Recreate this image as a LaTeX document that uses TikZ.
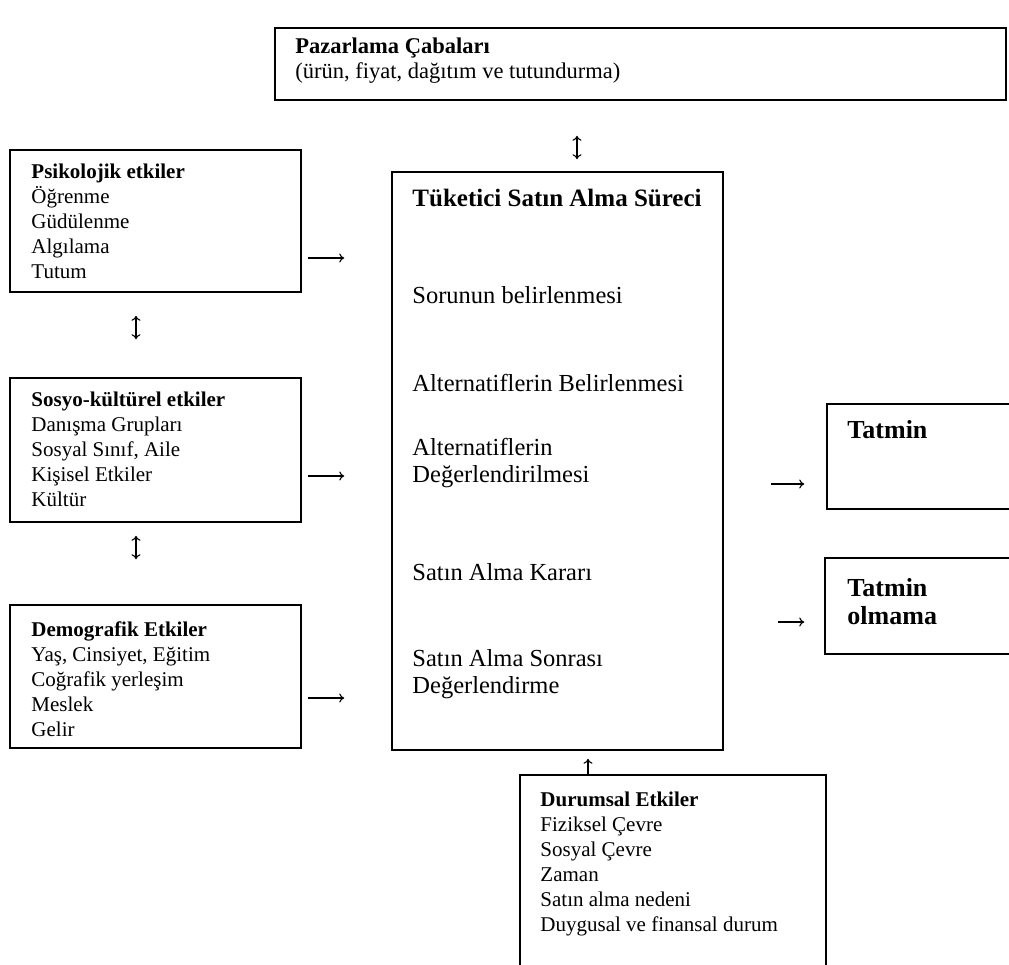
\documentclass[tikz,border=0pt]{standalone}
\usepackage{fontspec}
\setmainfont{Liberation Serif}
\usetikzlibrary{arrows.meta}
\tikzset{
  kutu/.style={
    rectangle,
    draw=black,
    line width=1.5pt,
    inner sep=0pt
    },
  yazi/.style={
    anchor=base west,
    align=left,
    inner sep=0pt,
    font=\fontsize{21}{25}\selectfont
    },
  ustyazi/.style={
    yazi,
    font=\fontsize{22.5}{25}\selectfont
    },
  surecyazi/.style={
    yazi,
    font=\fontsize{24.5}{27}\selectfont
    },
  tatminyazi/.style={
    yazi,
    font=\fontsize{26}{28}\selectfont\bfseries
    },
  ok/.style={line width=1.1pt,-{To[length=5pt,width=9pt]}},
  cift/.style={line width=1.1pt,{To[length=5pt,width=9pt]}-{To[length=5pt,width=9pt]}}
}

\begin{document}
\begin{tikzpicture}[x=1pt,y=-1pt]
\useasboundingbox (0,0) rectangle (1009,964);
\clip (0,0) rectangle (1009,964);
% kutular
\node (pazar) [kutu,minimum width=731pt,minimum height=72pt] at (640.5,64) {};
\node (psiko) [kutu,minimum width=291pt,minimum height=142pt] at (155.5,221) {};
\node (sosyo) [kutu,minimum width=291pt,minimum height=144pt] at (155.5,450) {};
\node (demog) [kutu,minimum width=291pt,minimum height=143pt] at (155.5,676.5) {};
\node (surec) [kutu,minimum width=331pt,minimum height=578pt] at (557.5,461) {};
\node (tatmin) [kutu,minimum width=193pt,minimum height=105pt] at (923.5,456.5) {};
\node (tatminyok) [kutu,minimum width=195pt,minimum height=96pt] at (922.5,606) {};
\node (durum) [kutu,minimum width=306pt,minimum height=225pt] at (673,887.5) {};
% yazilar (base = son satir)
\node (pazartxt) [ustyazi] at ([shift={(21,51)}]pazar.north west)
  {\textbf{Pazarlama Çabaları}\\(ürün, fiyat, dağıtım ve tutundurma)};
\node (psikotxt) [yazi] at ([shift={(22,129)}]psiko.north west)
  {\textbf{Psikolojik etkiler}\\Öğrenme\\Güdülenme\\Algılama\\Tutum};
\node (sosyotxt) [yazi] at ([shift={(22,129)}]sosyo.north west)
  {\textbf{Sosyo-kültürel etkiler}\\Danışma Grupları\\Sosyal Sınıf, Aile\\Kişisel Etkiler\\Kültür};
\node (demogtxt) [yazi] at ([shift={(22,132)}]demog.north west)
  {\textbf{Demografik Etkiler}\\Yaş, Cinsiyet, Eğitim\\Coğrafik yerleşim\\Meslek\\Gelir};
\node (surectxt) [surecyazi] at ([shift={(21,35)}]surec.north west)
  {\fontsize{25}{27}\selectfont\textbf{Tüketici Satın Alma Süreci}};
\node (adim1) [surecyazi] at ([shift={(21,132)}]surec.north west) {Sorunun belirlenmesi};
\node (adim2) [surecyazi] at ([shift={(21,220)}]surec.north west) {Alternatiflerin Belirlenmesi};
\node (adim3) [surecyazi] at ([shift={(21,311)}]surec.north west) {Alternatiflerin\\Değerlendirilmesi};
\node (adim4) [surecyazi] at ([shift={(21,409)}]surec.north west) {Satın Alma Kararı};
\node (adim5) [surecyazi] at ([shift={(21,522)}]surec.north west) {Satın Alma Sonrası\\Değerlendirme};
\node (tatmintxt) [tatminyazi] at ([shift={(21,35)}]tatmin.north west) {Tatmin};
\node (tatminyoktxt) [tatminyazi] at ([shift={(23,67)}]tatminyok.north west) {Tatmin\\olmama};
\node (durumtxt) [yazi] at ([shift={(21,157)}]durum.north west)
  {\textbf{Durumsal Etkiler}\\Fiziksel Çevre\\Sosyal Çevre\\Zaman\\Satın alma nedeni\\Duygusal ve finansal durum};
% oklar
\draw[cift,shorten <=35pt,shorten >=12pt] (pazar.south -| 577,0) -- (surec.north -| 577,0);
\draw[cift,shorten <=23pt,shorten >=38pt] (psiko.south -| 136,0) -- (sosyo.north -| 136,0);
\draw[cift,shorten <=13pt,shorten >=45pt] (sosyo.south -| 136,0) -- (demog.north -| 136,0);
\draw[ok,shorten <=6pt,shorten >=47pt] (psiko.east |- 0,258) -- (surec.west |- 0,258);
\draw[ok,shorten <=6pt,shorten >=47pt] (sosyo.east |- 0,476) -- (surec.west |- 0,476);
\draw[ok,shorten <=6pt,shorten >=47pt] (demog.east |- 0,698) -- (surec.west |- 0,698);
\draw[ok,shorten <=47pt,shorten >=22pt] (surec.east |- 0,484) -- (tatmin.west |- 0,484);
\draw[ok,shorten <=54pt,shorten >=20pt] (surec.east |- 0,622) -- (tatminyok.west |- 0,622);
\draw[ok,shorten >=8pt] (durum.north -| 588,0) -- (surec.south -| 588,0);
\end{tikzpicture}
\end{document}
